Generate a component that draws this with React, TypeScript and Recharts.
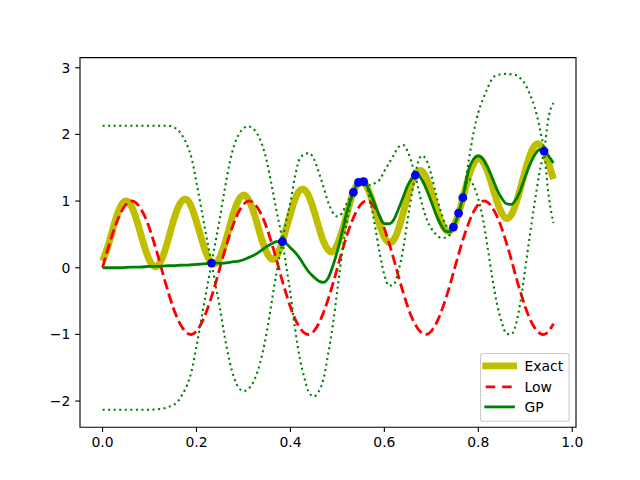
import React from 'react';
import { ComposedChart, Line, Scatter, XAxis, YAxis, Legend, ReferenceArea } from 'recharts';

// sample positions for the exact and low-fidelity curves
const xs = [
  0.0, 0.01, 0.02, 0.03, 0.04, 0.05, 0.06, 0.07, 0.08, 0.09,
  0.1, 0.11, 0.12, 0.13, 0.14, 0.15, 0.16, 0.17, 0.18, 0.19,
  0.2, 0.21, 0.22, 0.23, 0.24, 0.25, 0.26, 0.27, 0.28, 0.29,
  0.3, 0.31, 0.32, 0.33, 0.34, 0.35, 0.36, 0.37, 0.38, 0.39,
  0.4, 0.41, 0.42, 0.43, 0.44, 0.45, 0.46, 0.47, 0.48, 0.49,
  0.5, 0.51, 0.52, 0.53, 0.54, 0.55, 0.56, 0.57, 0.58, 0.59,
  0.6, 0.61, 0.62, 0.63, 0.64, 0.65, 0.66, 0.67, 0.68, 0.69,
  0.7, 0.71, 0.72, 0.73, 0.74, 0.75, 0.76, 0.77, 0.78, 0.79,
  0.8, 0.81, 0.82, 0.83, 0.84, 0.85, 0.86, 0.87, 0.88, 0.89,
  0.9, 0.91, 0.92, 0.93, 0.94, 0.95, 0.96,
];

const exact = [
  0.10, 0.29, 0.53, 0.77, 0.94, 1.00, 0.94, 0.77, 0.54, 0.30,
  0.11, 0.02, 0.05, 0.20, 0.43, 0.68, 0.89, 1.01, 1.02, 0.90,
  0.69, 0.45, 0.23, 0.09, 0.06, 0.16, 0.35, 0.60, 0.85, 1.02,
  1.09, 1.03, 0.87, 0.64, 0.40, 0.22, 0.13, 0.17, 0.33, 0.56,
  0.81, 1.03, 1.16, 1.17, 1.06, 0.86, 0.62, 0.40, 0.27, 0.24,
  0.35, 0.55, 0.80, 1.05, 1.23, 1.30, 1.25, 1.09, 0.87, 0.64,
  0.46, 0.38, 0.42, 0.58, 0.82, 1.08, 1.30, 1.43, 1.45, 1.34,
  1.14, 0.91, 0.70, 0.57, 0.55, 0.66, 0.86, 1.12, 1.38, 1.56,
  1.64, 1.59, 1.44, 1.22, 0.99, 0.82, 0.74, 0.79, 0.96, 1.20,
  1.46, 1.69, 1.83, 1.85, 1.75, 1.56, 1.33,
];

const low = [
  0.00, 0.25, 0.48, 0.68, 0.84, 0.95, 1.00, 0.98, 0.90, 0.77,
  0.59, 0.37, 0.13, -0.13, -0.37, -0.59, -0.77, -0.90, -0.98, -1.00,
  -0.95, -0.84, -0.68, -0.48, -0.25, 0.00, 0.25, 0.48, 0.68, 0.84,
  0.95, 1.00, 0.98, 0.90, 0.77, 0.59, 0.37, 0.13, -0.13, -0.37,
  -0.59, -0.77, -0.90, -0.98, -1.00, -0.95, -0.84, -0.68, -0.48, -0.25,
  0.00, 0.25, 0.48, 0.68, 0.84, 0.95, 1.00, 0.98, 0.90, 0.77,
  0.59, 0.37, 0.13, -0.13, -0.37, -0.59, -0.77, -0.90, -0.98, -1.00,
  -0.95, -0.84, -0.68, -0.48, -0.25, 0.00, 0.25, 0.48, 0.68, 0.84,
  0.95, 1.00, 0.98, 0.90, 0.77, 0.59, 0.37, 0.13, -0.13, -0.37,
  -0.59, -0.77, -0.90, -0.98, -1.00, -0.95, -0.84,
];

// GP prediction: mean and the two dotted bounds
const gpX = [
  0.0, 0.02, 0.04, 0.06, 0.08, 0.1, 0.12, 0.13, 0.14, 0.15, 0.16, 0.17, 0.18, 0.19, 0.2, 0.21, 0.22, 0.232,
  0.24, 0.25, 0.26, 0.27, 0.28, 0.29, 0.3, 0.31, 0.32, 0.33, 0.34, 0.35, 0.36, 0.37, 0.383,
  0.39, 0.4, 0.41, 0.42, 0.43, 0.44, 0.45, 0.46, 0.47, 0.48, 0.49, 0.5, 0.51, 0.52, 0.534,
  0.545, 0.556, 0.57, 0.58, 0.59, 0.6, 0.61, 0.62, 0.63, 0.64, 0.65, 0.66, 0.666,
  0.67, 0.68, 0.69, 0.7, 0.71, 0.72, 0.73, 0.74, 0.747, 0.758, 0.767,
  0.78, 0.79, 0.8, 0.81, 0.82, 0.83, 0.84, 0.85, 0.86, 0.87, 0.88, 0.89, 0.9, 0.91, 0.92, 0.93, 0.94, 0.95, 0.96,
];

const gpMean = [
  0.0, 0.0, 0.0, 0.01, 0.01, 0.02, 0.02, 0.025, 0.03, 0.03, 0.035, 0.04, 0.04, 0.045, 0.05, 0.055, 0.06, 0.07,
  0.07, 0.07, 0.07, 0.08, 0.09, 0.1, 0.12, 0.15, 0.18, 0.22, 0.27, 0.32, 0.36, 0.39, 0.4,
  0.37, 0.3, 0.23, 0.14, 0.03, -0.07, -0.14, -0.2, -0.22, -0.16, 0.02, 0.25, 0.53, 0.83, 1.13,
  1.28, 1.29, 1.12, 0.95, 0.77, 0.66, 0.66, 0.72, 0.88, 1.06, 1.24, 1.35, 1.39,
  1.4, 1.32, 1.17, 0.99, 0.8, 0.65, 0.55, 0.54, 0.61, 0.82, 1.05,
  1.48, 1.63, 1.68, 1.63, 1.5, 1.34, 1.17, 1.04, 0.96, 0.95, 1.02, 1.17, 1.37, 1.55, 1.69, 1.77, 1.75, 1.67, 1.57,
];

const gpUpper = [
  2.13, 2.13, 2.13, 2.13, 2.13, 2.13, 2.13, 2.13, 2.13, 2.11, 2.07, 1.98, 1.84, 1.63, 1.28, 0.9, 0.51, 0.07,
  0.37, 0.75, 1.17, 1.55, 1.83, 2.0, 2.09, 2.12, 2.09, 2.0, 1.84, 1.59, 1.24, 0.87, 0.4,
  0.67, 0.98, 1.38, 1.64, 1.7, 1.72, 1.63, 1.44, 1.22, 0.99, 0.83, 0.77, 0.82, 0.97, 1.13,
  1.31, 1.29, 1.24, 1.27, 1.32, 1.45, 1.57, 1.69, 1.81, 1.84, 1.74, 1.53, 1.39,
  1.54, 1.68, 1.61, 1.39, 1.1, 0.85, 0.65, 0.58, 0.61, 0.84, 1.05,
  1.63, 2.03, 2.33, 2.53, 2.7, 2.84, 2.89, 2.9, 2.91, 2.9, 2.89, 2.84, 2.75, 2.6, 2.41, 2.12, 1.75, 2.27, 2.47,
];

const gpLower = [
  -2.13, -2.13, -2.13, -2.13, -2.13, -2.13, -2.12, -2.11, -2.09, -2.06, -2.01, -1.9, -1.76, -1.54, -1.18, -0.79, -0.39, 0.07,
  -0.23, -0.61, -1.03, -1.39, -1.65, -1.8, -1.85, -1.82, -1.73, -1.56, -1.3, -0.95, -0.52, -0.09, 0.4,
  0.07, -0.38, -0.92, -1.36, -1.66, -1.88, -1.93, -1.86, -1.68, -1.31, -0.87, -0.33, 0.22, 0.67, 1.13,
  1.25, 1.29, 1.0, 0.63, 0.22, -0.11, -0.27, -0.25, -0.05, 0.28, 0.74, 1.17, 1.39,
  1.26, 0.96, 0.73, 0.59, 0.5, 0.45, 0.45, 0.5, 0.61, 0.8, 1.05,
  1.33, 1.23, 1.03, 0.73, 0.3, -0.16, -0.55, -0.82, -0.99, -1.0, -0.85, -0.5, -0.01, 0.5, 0.97, 1.42, 1.75, 1.07, 0.67,
];

// training points (blue dots)
const trainX = [0.232, 0.383, 0.534, 0.545, 0.556, 0.666, 0.747, 0.758, 0.767, 0.94];
const trainY = [0.07, 0.39, 1.13, 1.28, 1.29, 1.39, 0.61, 0.82, 1.05, 1.75];

// isolated training points where the dotted bounds cross each other
const crossings = [0.232, 0.383, 0.666, 0.94];

const xTicks = [0, 0.2, 0.4, 0.6, 0.8, 1.0];
const yTicks = [-2, -1, 0, 1, 2, 3];

const FONT = 'DejaVu Sans';

const exactData = xs.map((x, i) => ({ x, y: exact[i] }));
const lowData = xs.map((x, i) => ({ x, y: low[i] }));
const meanData = gpX.map((x, i) => ({ x, y: gpMean[i] }));
const trainData = trainX.map((x, i) => ({ x, y: trainY[i] }));

// join the bounds so each dotted curve runs smoothly through the crossings
const bandA: { x: number; y: number }[] = [];
const bandB: { x: number; y: number }[] = [];
let swapped = false;
gpX.forEach((x, i) => {
  bandA.push({ x, y: swapped ? gpLower[i] : gpUpper[i] });
  bandB.push({ x, y: swapped ? gpUpper[i] : gpLower[i] });
  if (crossings.includes(x)) swapped = !swapped;
});

const fmtY = (v: number) => (v < 0 ? '\u2212' + Math.abs(v) : String(v));

const tickStyle = { fill: '#000', fontSize: 13.9, fontFamily: FONT };

const renderLegend = () => (
  <svg width={90} height={70} style={{ display: 'block' }}>
    <rect x={0.5} y={0.5} width={88.6} height={67.7} rx={2.8} fill="#fff" fillOpacity={0.8} stroke="#cccccc" strokeWidth={1.1} />
    <line x1={5.7} x2={33.5} y1={12.9} y2={12.9} stroke="#bfbf00" strokeWidth={6.9} strokeLinecap="square" />
    <line x1={5.7} x2={33.5} y1={33.9} y2={33.9} stroke="#ff0000" strokeWidth={2.8} strokeDasharray="9.5 7" />
    <line x1={5.7} x2={33.5} y1={53.9} y2={53.9} stroke="#008000" strokeWidth={2.8} strokeLinecap="square" />
    <text x={44.6} y={12.9} dy="0.36em" fontSize={13.9} fontFamily={FONT} fill="#000">Exact</text>
    <text x={44.6} y={33.9} dy="0.36em" fontSize={13.9} fontFamily={FONT} fill="#000">Low</text>
    <text x={44.6} y={53.9} dy="0.36em" fontSize={13.9} fontFamily={FONT} fill="#000">GP</text>
  </svg>
);

export default function App() {
  return (
    <div style={{ position: 'absolute', left: 0, top: 0, width: 640, height: 480, background: '#fff', fontFamily: FONT }}>
      <ComposedChart width={640} height={480} margin={{ top: 57.6, right: 64, bottom: 22.8, left: 20 }}>
        <XAxis
          dataKey="x"
          type="number"
          domain={[-0.048, 1.008]}
          ticks={xTicks}
          interval={0}
          allowDataOverflow
          tickFormatter={(v: number) => v.toFixed(1)}
          axisLine={false}
          tickLine={{ stroke: '#000', strokeWidth: 1.1 }}
          tickSize={4.86}
          tickMargin={4.86}
          tick={tickStyle}
          height={30}
        />
        <YAxis
          type="number"
          domain={[-2.392, 3.152]}
          ticks={yTicks}
          interval={0}
          allowDataOverflow
          tickFormatter={fmtY}
          axisLine={false}
          tickLine={{ stroke: '#000', strokeWidth: 1.1 }}
          tickSize={4.86}
          tickMargin={4.86}
          tick={tickStyle}
          width={60}
        />
        <Line data={exactData} dataKey="y" name="Exact" type="natural" stroke="#bfbf00" strokeWidth={6.9} dot={false} activeDot={false} isAnimationActive={false} />
        <Line data={lowData} dataKey="y" name="Low" type="natural" stroke="#ff0000" strokeWidth={2.8} strokeDasharray="10.3 4.4" dot={false} activeDot={false} isAnimationActive={false} />
        <Line data={meanData} dataKey="y" name="GP" type="monotone" stroke="#008000" strokeWidth={2.8} dot={false} activeDot={false} isAnimationActive={false} />
        <Line data={bandA} dataKey="y" name="bandA" type="monotone" stroke="#008000" strokeWidth={2.1} strokeDasharray="2.1 3.45" dot={false} activeDot={false} isAnimationActive={false} />
        <Line data={bandB} dataKey="y" name="bandB" type="monotone" stroke="#008000" strokeWidth={2.1} strokeDasharray="2.1 3.45" dot={false} activeDot={false} isAnimationActive={false} />
        <Scatter
          data={trainData}
          dataKey="y"
          isAnimationActive={false}
          shape={(p: any) => <circle cx={p.cx} cy={p.cy} r={4.4} fill="#0000ff" />}
        />
        <ReferenceArea
          x1={-0.048}
          x2={1.008}
          y1={-2.392}
          y2={3.152}
          fill="none"
          stroke="#000"
          strokeWidth={1.1}
          ifOverflow="visible"
        />
        <Legend
          content={renderLegend}
          layout="horizontal"
          verticalAlign="middle"
          align="center"
          wrapperStyle={{ left: 480.2, top: 352.8, width: 90, height: 70 }}
        />
      </ComposedChart>
    </div>
  );
}
